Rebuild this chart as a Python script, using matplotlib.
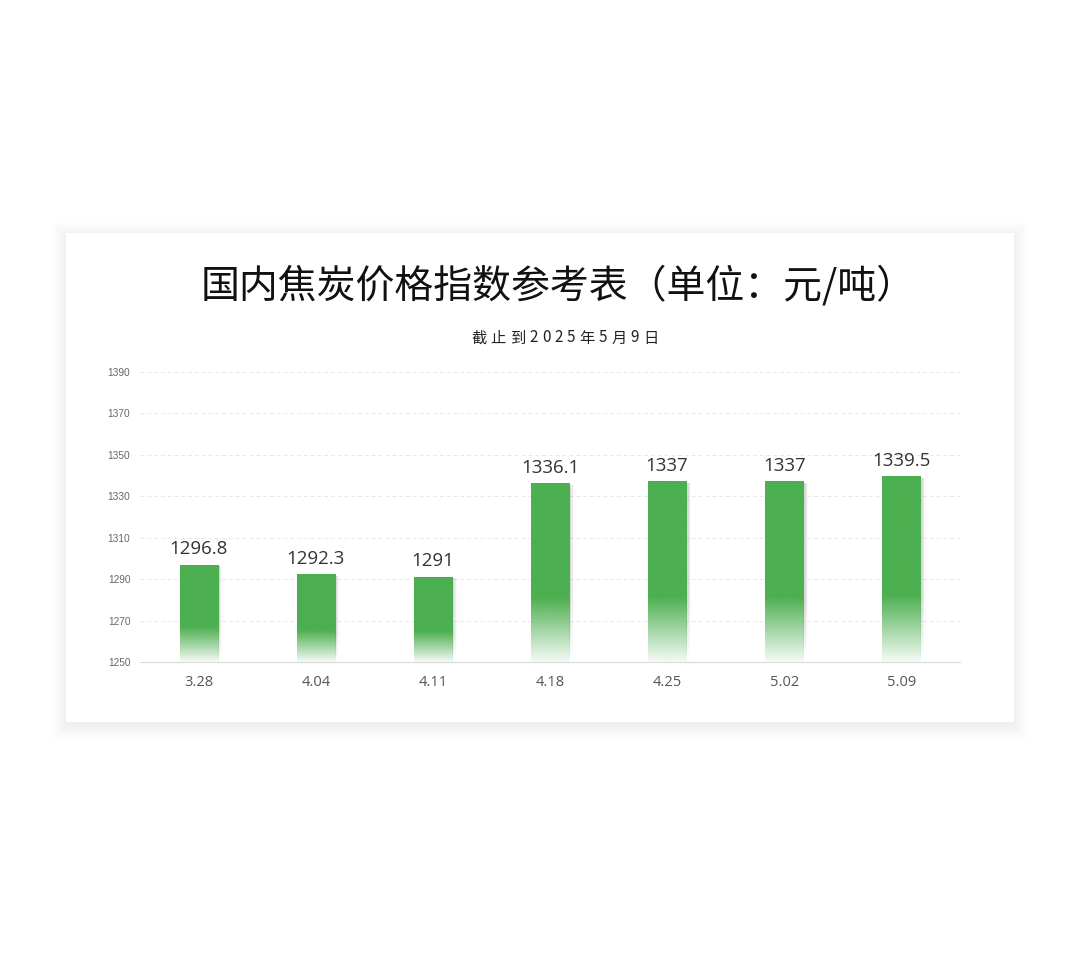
import numpy as np
import matplotlib.pyplot as plt
from matplotlib.patches import Rectangle
from matplotlib.colors import to_rgb

plt.rcParams['font.family'] = ['Noto Sans CJK SC', 'DejaVu Sans']

dates = ['3.28', '4.04', '4.11', '4.18', '4.25', '5.02', '5.09']
prices = [1296.8, 1292.3, 1291, 1336.1, 1337, 1337, 1339.5]
labels = ['1296.8', '1292.3', '1291', '1336.1', '1337', '1337', '1339.5']
yticks = [1250, 1270, 1290, 1310, 1330, 1350, 1370, 1390]

title = '国内焦炭价格指数参考表（单位：元/吨）'
subtitle = '截止到2025年5月9日'

fig = plt.figure(figsize=(10.8, 9.56), dpi=100)
fig.patch.set_facecolor('white')

# card with soft shadow
W, H = 1080, 956
cx0, cy0, cx1, cy1 = 66, 233, 1014, 722
for i in range(8):
    off = 14 - i * 2
    fig.patches.append(Rectangle(((cx0 - off) / W, 1 - (cy1 + off + 3) / H),
                                 (cx1 - cx0 + 2 * off) / W, (cy1 - cy0 + 2 * off) / H,
                                 transform=fig.transFigure, facecolor='black',
                                 edgecolor='none', alpha=0.009, zorder=0))
fig.patches.append(Rectangle((cx0 / W, 1 - cy1 / H), (cx1 - cx0) / W, (cy1 - cy0) / H,
                             transform=fig.transFigure, facecolor='white',
                             edgecolor='none', zorder=1))

fig.text(558 / W, 1 - 286 / H, title, ha='center', va='center', fontsize=28,
         color='#111111', fontweight='light', zorder=3)

# subtitle with letter spacing
renderer = fig.canvas.get_renderer()
pieces = []
for ch in subtitle:
    t = fig.text(0, 0, ch, fontsize=11, color='#222222', va='center', ha='left', zorder=3)
    pieces.append((t, t.get_window_extent(renderer).width))
gap = 4.1
total = sum(w for _, w in pieces) + gap * (len(pieces) - 1)
xpos = 565 - total / 2
for t, w in pieces:
    t.set_position((xpos / W, 1 - 338 / H))
    xpos += w + gap

ax = fig.add_axes([140 / W, 1 - 662 / H, 820 / W, 290 / H], zorder=2)
ax.set_facecolor('none')

x = np.arange(len(dates))
bw = 0.325
green = np.array(to_rgb('#4caf50'))

n = 200
t = np.linspace(0, 1, n)[:, None]  # 0 top, 1 bottom
fade = np.clip((1 - t) / 0.36, 0, 1)  # fades over bottom 36%

for xi, v, lab in zip(x, prices, labels):
    # soft shadow on the right, fading like the bar
    shadow = np.zeros((n, 2, 4))
    shadow[..., 3] = 0.09 * fade
    for k, a in enumerate([1.0, 0.6, 0.3]):
        s = shadow.copy()
        s[..., 3] *= a
        ax.imshow(s, extent=(xi - bw / 2 + 0.012 + k * 0.012, xi + bw / 2 + 0.012 + k * 0.012,
                             1250, v - 0.8), aspect='auto', zorder=1.5,
                  interpolation='bilinear')
    img = np.zeros((n, 2, 4))
    img[..., :3] = green
    img[..., 3] = 0.06 + 0.94 * fade
    # white underlay so the fade ends in white, not shadow grey
    ax.add_patch(Rectangle((xi - bw / 2, 1250), bw, v - 1250, facecolor='white',
                           edgecolor='none', zorder=1.8))
    ax.imshow(img, extent=(xi - bw / 2, xi + bw / 2, 1250, v), aspect='auto',
              zorder=2, interpolation='bilinear')
    ax.text(xi, v + 3.3, lab, ha='center', va='bottom', fontsize=13.5, color='#333333',
            family=['Open Sans', 'DejaVu Sans'])

ax.set_xlim(-0.5, len(dates) - 0.5)
ax.set_ylim(1250, 1390)
ax.set_xticks(x)
ax.set_xticklabels(dates, fontsize=10.5, color='#555555', family=['Open Sans', 'DejaVu Sans'])
ax.set_yticks(yticks)
ax.set_yticklabels([str(v) for v in yticks], fontsize=7.3, color='#666666',
                   family=['Liberation Sans', 'DejaVu Sans'])
ax.tick_params(axis='both', length=0)
ax.tick_params(axis='x', pad=9)
ax.tick_params(axis='y', pad=7)
for s in ['top', 'right', 'left']:
    ax.spines[s].set_visible(False)
ax.spines['bottom'].set_color('#d9d9d9')
ax.grid(axis='y', color='#e8e8e8', linestyle=(0, (4, 3)), linewidth=0.7)
ax.set_axisbelow(True)

fig.savefig('out.png', dpi=100, facecolor='white')
